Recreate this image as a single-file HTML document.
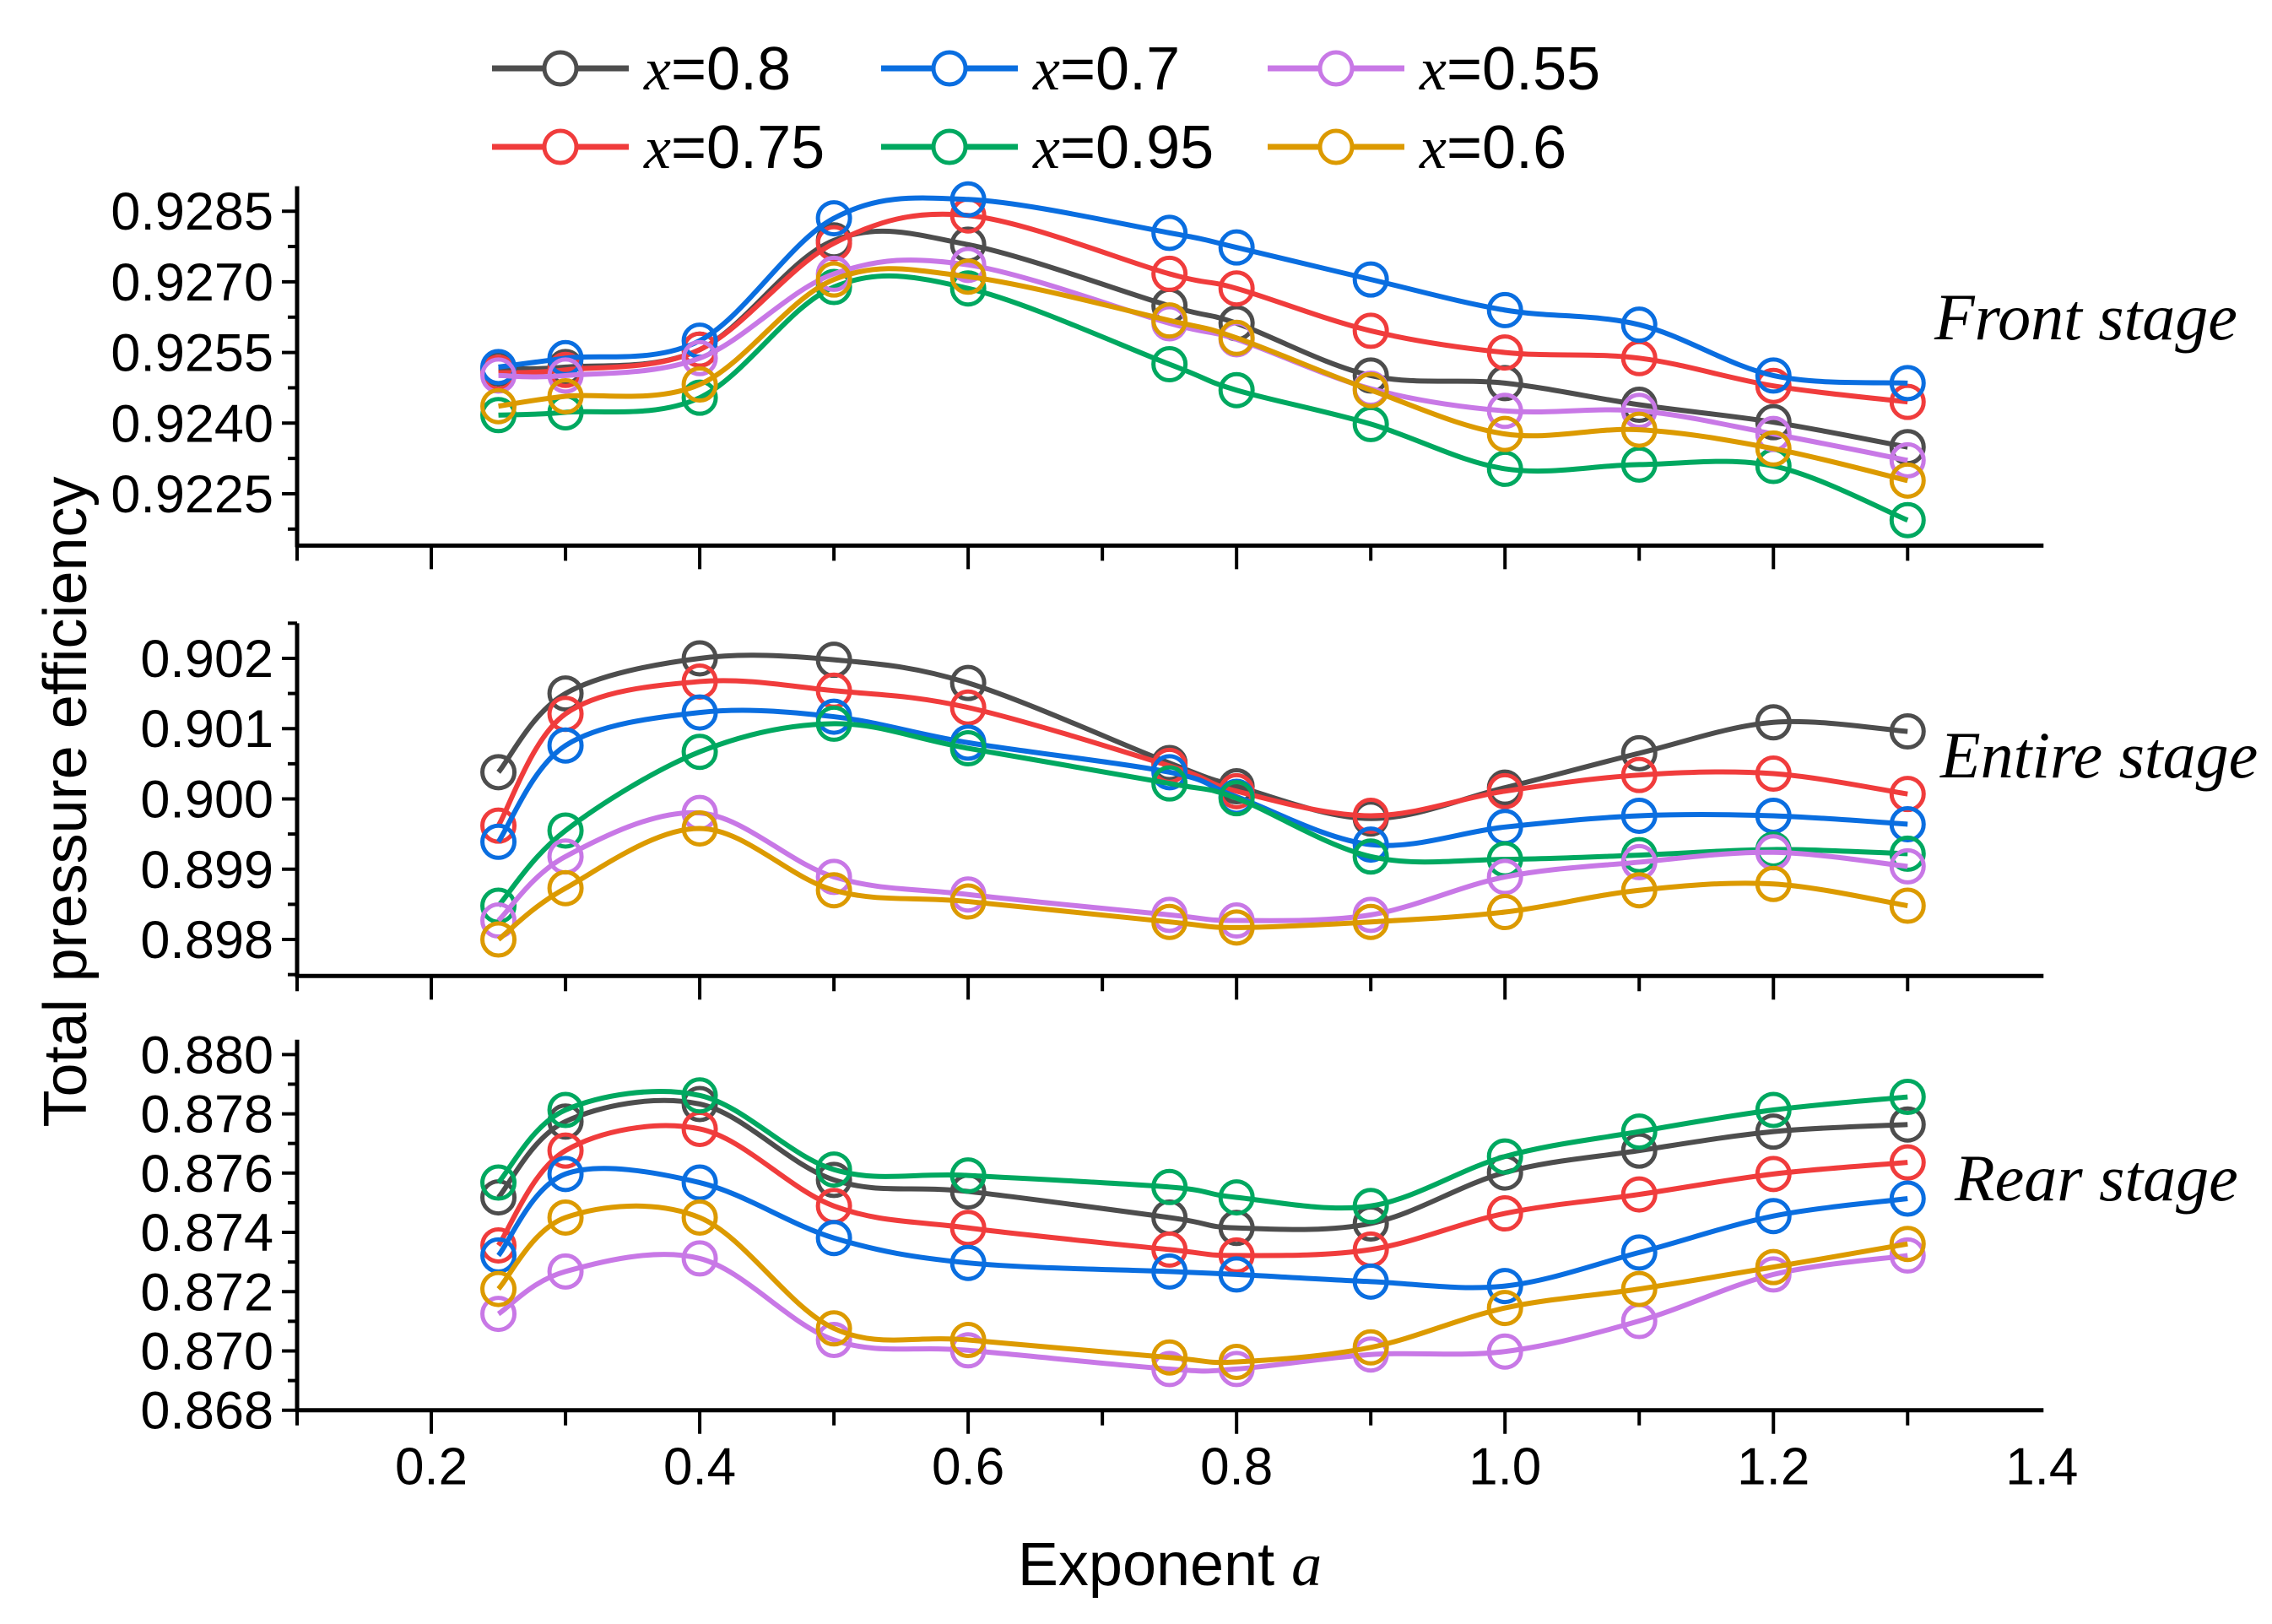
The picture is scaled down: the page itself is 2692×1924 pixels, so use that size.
<!DOCTYPE html>
<html><head><meta charset="utf-8"><style>
html,body{margin:0;padding:0;background:#fff;}
svg{display:block;}
text{font-family:"Liberation Sans",sans-serif;fill:#000;}
.it{font-family:"Liberation Serif",serif;font-style:italic;}
</style></head><body>
<svg id="chart" width="2692" height="1924" viewBox="0 0 2692 1924" xmlns="http://www.w3.org/2000/svg">
<g id="axes"></g>
<g id="series"></g>
<g id="legend"></g>
<text x="0" y="0" font-size="72" text-anchor="middle" transform="translate(102,950) rotate(-90)">Total pressure efficiency</text>
<text x="1386" y="1878" font-size="72" text-anchor="middle">Exponent <tspan class="it">a</tspan></text>
<text class="it" x="2292" y="402" font-size="78">Front stage</text>
<text class="it" x="2299" y="921" font-size="78">Entire stage</text>
<text class="it" x="2316" y="1422" font-size="78">Rear stage</text>
</svg>
<script>
const xValues=[0.25,0.3,0.4,0.5,0.6,0.75,0.8,0.9,1.0,1.1,1.2,1.3];
const seriesNames=["x=0.8","x=0.75","x=0.7","x=0.95","x=0.55","x=0.6"];
const seriesLabels=["0.8","0.75","0.7","0.95","0.55","0.6"];
const frontX08=[0.92516,0.92519,0.92556,0.92788,0.92779,0.92649,0.92612,0.92501,0.92485,0.92439,0.92402,0.92349];
const frontX075=[0.92507,0.92513,0.92556,0.92782,0.92841,0.92717,0.92686,0.92596,0.9255,0.92538,0.92479,0.92445];
const frontX07=[0.92519,0.92538,0.92575,0.92835,0.92875,0.92804,0.92773,0.92705,0.9264,0.92609,0.92501,0.92485];
const frontX095=[0.92417,0.92423,0.92454,0.92689,0.92686,0.92525,0.9247,0.92398,0.92303,0.92312,0.92309,0.92194];
const frontX055=[0.92501,0.92501,0.92538,0.92717,0.92736,0.92612,0.92578,0.92473,0.92426,0.92426,0.92377,0.92321];
const frontX06=[0.92436,0.92457,0.92482,0.92705,0.92711,0.92618,0.92581,0.9247,0.92377,0.92386,0.92346,0.92278];
const entireX08=[0.90038,0.9015,0.902,0.90198,0.90165,0.90051,0.90018,0.89972,0.90016,0.90065,0.90109,0.90096];
const entireX075=[0.89962,0.90121,0.90167,0.90154,0.9013,0.90047,0.90011,0.89976,0.90011,0.90034,0.90036,0.90007];
const entireX07=[0.89939,0.90076,0.90123,0.90117,0.9008,0.90038,0.90003,0.89935,0.8996,0.89976,0.89976,0.89964];
const entireX095=[0.89848,0.89955,0.90067,0.90107,0.90072,0.90022,0.90001,0.89918,0.89914,0.8992,0.89928,0.89922];
const entireX055=[0.89827,0.89918,0.8998,0.89889,0.89864,0.89835,0.89827,0.89835,0.89889,0.8991,0.89924,0.89904];
const entireX06=[0.898,0.89873,0.89958,0.8987,0.89854,0.89825,0.89817,0.89825,0.89839,0.8987,0.89879,0.89848];
const rearX08=[0.87518,0.87774,0.87833,0.87577,0.87538,0.8745,0.87415,0.8743,0.87602,0.87676,0.8774,0.87764];
const rearX075=[0.87356,0.87676,0.87749,0.87489,0.87415,0.87342,0.87322,0.87342,0.87464,0.87528,0.87597,0.87636];
const rearX07=[0.87322,0.87597,0.87568,0.87381,0.87297,0.87268,0.87258,0.87234,0.87219,0.87332,0.87455,0.87514];
const rearX095=[0.87568,0.87813,0.87862,0.87612,0.87592,0.87553,0.87518,0.87489,0.87656,0.8774,0.87813,0.87857];
const rearX055=[0.87125,0.87268,0.87312,0.87037,0.87002,0.86939,0.86939,0.86988,0.86998,0.87101,0.87258,0.87322];
const rearX06=[0.87209,0.8745,0.8745,0.87076,0.87037,0.86978,0.86963,0.87012,0.87145,0.87209,0.87283,0.87361];
const xTickLabels=["0.2","0.4","0.6","0.8","1.0","1.2","1.4"];
const frontTicks=["0.9285","0.9270","0.9255","0.9240","0.9225"];
const entireTicks=["0.902","0.901","0.900","0.899","0.898"];
const rearTicks=["0.880","0.878","0.876","0.874","0.872","0.870","0.868"];

const colors=["#4d4d4d","#f03c3c","#0a6ee0","#00a860","#c878e6","#dc9a00"];
const K=1.7256;
const NS="http://www.w3.org/2000/svg";
function xs(v){return (204+(v-0.1)/1.3*1198)*K;}
const panels=[
 {name:"front",data:[frontX08,frontX075,frontX07,frontX095,frontX055,frontX06],ticks:frontTicks,minorStep:0.00075,
  y:v=>(145+(0.9285-v)/0.0015*48.5)*K,top:0.92903,bot:0.9214},
 {name:"entire",data:[entireX08,entireX075,entireX07,entireX095,entireX055,entireX06],ticks:entireTicks,minorStep:0.0005,
  y:v=>(452+(0.902-v)/0.001*48.25)*K,top:0.9025,bot:0.89748},
 {name:"rear",data:[rearX08,rearX075,rearX07,rearX095,rearX055,rearX06],ticks:rearTicks,minorStep:0.001,
  y:v=>(724+(0.880-v)/0.002*40.7)*K,top:0.8805,bot:0.868}
];
function mk(tag,attrs,parent){const e=document.createElementNS(NS,tag);for(const k in attrs)e.setAttribute(k,attrs[k]);parent.appendChild(e);return e;}
const axes=document.getElementById('axes'),ser=document.getElementById('series'),leg=document.getElementById('legend');
function smooth(pts){let d="M"+pts[0][0]+","+pts[0][1];
 for(let i=0;i<pts.length-1;i++){const p0=pts[i-1]||pts[i],p1=pts[i],p2=pts[i+1],p3=pts[i+2]||p2;
  const c1=[p1[0]+(p2[0]-p0[0])/6,p1[1]+(p2[1]-p0[1])/6],c2=[p2[0]-(p3[0]-p1[0])/6,p2[1]-(p3[1]-p1[1])/6];
  d+=" C"+c1+" "+c2+" "+p2;}return d;}
panels.forEach((p,pi)=>{
 const yb=p.y(p.bot),yt=p.y(p.top),x0=xs(0.1),x1=xs(1.4);
 const la=mk('line',{x1:x0,y1:yt,x2:x0,y2:yb+2,stroke:'#000','stroke-width':5},axes);
 
 
 const ba=mk('line',{x1:x0-2,y1:yb,x2:x1+2,y2:yb,stroke:'#000','stroke-width':5},axes);
 
 
 for(let i=1;i<=13;i++){const v=0.1*i;const major=i%2===0;
  const t=mk('line',{x1:xs(v),y1:yb,x2:xs(v),y2:yb+(major?28:18),stroke:'#000','stroke-width':4},axes);
  
  }
 const vals=p.ticks.map(Number);const step=p.minorStep;
 const start=Math.ceil((p.bot-1e-7)/step)*step;
 for(let v=start;v<=p.top+1e-9;v+=step){
  const isMajor=vals.some(m=>Math.abs(m-v)<step*0.1);
  const t=mk('line',{x1:x0,y1:p.y(v),x2:x0-(isMajor?18:11),y2:p.y(v),stroke:'#000','stroke-width':4},axes);
  
  }
 p.ticks.forEach(s=>{const t=mk('text',{x:x0-28,y:p.y(Number(s))+22,'font-size':63,'text-anchor':'end'},axes);t.textContent=s;
  
  });
 const g=mk('g',{},ser);
 
 
 p.data.forEach((arr,si)=>{
  const pts=arr.map((v,i)=>[xs(xValues[i]),p.y(v)]);
  const path=mk('path',{d:smooth(pts),fill:'none',stroke:colors[si],'stroke-width':6},g);
  
  
  pts.forEach(pt=>{const c=mk('circle',{cx:pt[0],cy:pt[1],r:19,fill:'none',stroke:colors[si],'stroke-width':5},g);
   
   });
 });
 if(pi===2){xTickLabels.forEach(s=>{const t=mk('text',{x:xs(Number(s)),y:yb+88,'font-size':62,'text-anchor':'middle'},axes);t.textContent=s;
  
  });}
});
const legOrder=[[0,2,4],[1,3,5]];const colX=[583,1044,1502];const rowY=[81,174];
legOrder.forEach((row,r)=>row.forEach((si,c)=>{
 const g=mk('g',{},leg);
 
 
 const x=colX[c],y=rowY[r];
 mk('line',{x1:x,y1:y,x2:x+162,y2:y,stroke:colors[si],'stroke-width':7},g);
 mk('circle',{cx:x+81,cy:y,r:19,fill:'#fff',stroke:colors[si],'stroke-width':5},g);
 const t=mk('text',{x:x+180,y:y+25,'font-size':72},g);
 const ts=mk('tspan',{class:'it'},t);ts.textContent='x';
 t.appendChild(document.createTextNode('='+seriesLabels[si]));
}));
</script>
</body></html>
